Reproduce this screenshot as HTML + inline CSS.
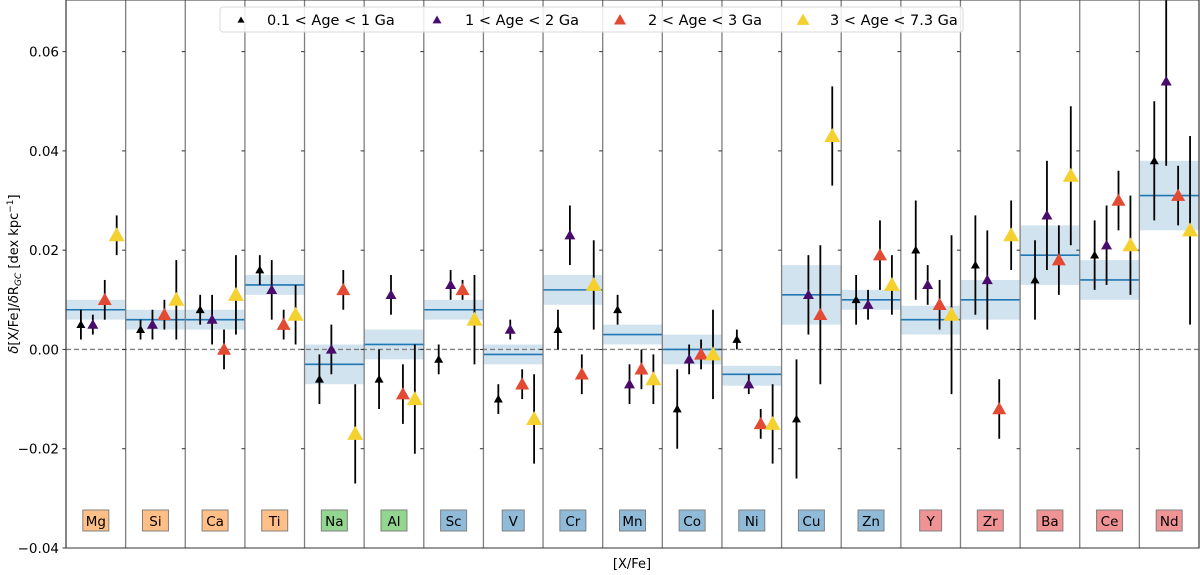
<!DOCTYPE html>
<html><head><meta charset="utf-8"><style>
html,body{margin:0;padding:0;background:#fff;}
svg{display:block;font-family:"DejaVu Sans","Liberation Sans",sans-serif;}
</style></head><body>
<svg id="chart" width="1200" height="575" viewBox="0 0 1200 575"></svg>
<script>
const elements = ["Mg","Si","Ca","Ti","Na","Al","Sc","V","Cr","Mn","Co","Ni","Cu","Zn","Y","Zr","Ba","Ce","Nd"];
const groups = ["o","o","o","o","g","g","b","b","b","b","b","b","b","b","r","r","r","r","r"];
const meanVals = [0.008,0.006,0.006,0.013,-0.003,0.001,0.008,-0.001,0.012,0.003,0.000,-0.005,0.011,0.010,0.006,0.010,0.019,0.014,0.031];
const bandLo = [0.006,0.004,0.004,0.011,-0.007,-0.002,0.006,-0.003,0.009,0.001,-0.003,-0.0073,0.005,0.008,0.003,0.006,0.013,0.010,0.024];
const bandHi = [0.010,0.008,0.008,0.015,0.001,0.004,0.010,0.001,0.015,0.005,0.003,-0.0033,0.017,0.012,0.0088,0.014,0.025,0.018,0.038];
const s1Val = [0.005,0.004,0.008,0.016,-0.006,-0.006,-0.002,-0.010,0.004,0.008,-0.012,0.002,-0.014,0.010,0.020,0.017,0.014,0.019,0.038];
const s1Err = [0.003,0.002,0.003,0.003,0.005,0.006,0.003,0.003,0.004,0.003,0.008,0.002,0.012,0.005,0.010,0.010,0.008,0.007,0.012];
const s2Val = [0.005,0.005,0.006,0.012,0.000,0.011,0.013,0.004,0.023,-0.007,-0.002,-0.007,0.011,0.009,0.013,0.014,0.027,0.021,0.054];
const s2Err = [0.002,0.003,0.005,0.006,0.005,0.004,0.003,0.002,0.006,0.004,0.003,0.002,0.008,0.003,0.004,0.010,0.011,0.008,0.017];
const s3Val = [0.010,0.007,0.000,0.005,0.012,-0.009,0.012,-0.007,-0.005,-0.004,-0.001,-0.015,0.007,0.019,0.009,-0.012,0.018,0.030,0.031];
const s3Err = [0.004,0.003,0.004,0.003,0.004,0.006,0.002,0.003,0.004,0.004,0.003,0.003,0.014,0.007,0.005,0.006,0.007,0.006,0.006];
const s4Val = [0.023,0.010,0.011,0.007,-0.017,-0.010,0.006,-0.014,0.013,-0.006,-0.001,-0.015,0.043,0.013,0.007,0.023,0.035,0.021,0.024];
const s4Err = [0.004,0.008,0.008,0.006,0.010,0.011,0.009,0.009,0.009,0.005,0.009,0.008,0.010,0.006,0.016,0.007,0.014,0.010,0.019];
const seriesNames = ["0.1 < Age < 1 Ga","1 < Age < 2 Ga","2 < Age < 3 Ga","3 < Age < 7.3 Ga"];
const yTicks = [-0.04,-0.02,0.00,0.02,0.04,0.06];
const yTickLabels = ["\u22120.04","\u22120.02","0.00","0.02","0.04","0.06"];

const NS="http://www.w3.org/2000/svg";
const svg=document.getElementById('chart');
const L=66,R=1199,T=0,B=548,YMIN=-0.04,YMAX=0.0704;
const colW=(R-L)/elements.length;
const y=v=>B-(v-YMIN)/(YMAX-YMIN)*(B-T);
const xc=(i,f)=>L+colW*(i+f);
function mk(tag,attrs,parent){const e=document.createElementNS(NS,tag);for(const k in attrs)e.setAttribute(k,attrs[k]);(parent||svg).appendChild(e);return e;}
const colors=["#000000","#4a0c6b","#e24a33","#f5d130"];
const sizes=[4.5,5.5,7,8];
const groupFill={o:"#ffbf86",g:"#93d68f",b:"#8fbbd9",r:"#f09394"};
const sVals=[s1Val,s2Val,s3Val,s4Val],sErrs=[s1Err,s2Err,s3Err,s4Err];
const offs=[0.25,0.45,0.65,0.85];

// bands
elements.forEach((el,i)=>{
  const b=mk('rect',{x:xc(i,0),y:y(bandHi[i]),width:colW,height:y(bandLo[i])-y(bandHi[i]),fill:"#d2e3f0"});
  
  
});
// zero dashed
const z=mk('line',{x1:L,x2:R,y1:y(0),y2:y(0),stroke:"#808080","stroke-width":1.3,"stroke-dasharray":"5,3"});


// mean lines
elements.forEach((el,i)=>{
  const m=mk('line',{x1:xc(i,0),x2:xc(i,1),y1:y(meanVals[i]),y2:y(meanVals[i]),stroke:"#1f77b4","stroke-width":1.6});
  
  
});
// separators + ticks
for(let i=0;i<=elements.length;i++){
  const x=xc(i,0);
  const s=mk('line',{x1:x,x2:x,y1:T,y2:B,stroke:"#7f7f7f","stroke-width":1.3});
  
  
  if(i<elements.length){
    yTicks.forEach(t=>{mk('line',{x1:x-3.5,x2:x,y1:y(t),y2:y(t),stroke:"#333","stroke-width":1});});
  }
}
// y tick labels
yTicks.forEach((t,k)=>{
  const tx=mk('text',{x:59,y:y(t)+5,"text-anchor":"end","font-size":"13.5",fill:"#000"});
  tx.textContent=yTickLabels[k];
  
  
});
// points
elements.forEach((el,i)=>{
  for(let s=0;s<4;s++){
    const cx=xc(i,offs[s]),v=sVals[s][i],e=sErrs[s][i];
    const eb=mk('line',{x1:cx,x2:cx,y1:y(v+e),y2:y(v-e),stroke:"#000","stroke-width":1.8});
    
    
    const h=sizes[s],py=y(v);
    const p=mk('polygon',{points:`${cx},${py-h} ${cx-h},${py+h*0.75} ${cx+h},${py+h*0.75}`,fill:colors[s]});
    
    
  }
});
// element labels
elements.forEach((el,i)=>{
  const cx=xc(i,0.5);
  const w=el.length===1?22:26;
  const g=mk('g',{});
  
  
  mk('rect',{x:cx-w/2,y:510,width:w,height:21,fill:groupFill[groups[i]],stroke:"#808080","stroke-width":1},g);
  const t=mk('text',{x:cx,y:526,"text-anchor":"middle","font-size":"13.5",fill:"#000"},g);
  t.textContent=el;
});
// plot frame
const fr=mk('rect',{x:L,y:T,width:R-L,height:B-T,fill:"none",stroke:"#333","stroke-width":1});


// legend
const lg=mk('g',{});


mk('rect',{x:220,y:7,width:743,height:25,rx:3,fill:"#fff","fill-opacity":0.85,stroke:"#d8d8d8"},lg);
const lmx=[241,437,620,803],ltx=[267,465,648,830];
seriesNames.forEach((n,s)=>{
  const h=[3.5,4.5,6,6.5][s];
  const e=mk('g',{},lg);
  
  
  mk('polygon',{points:`${lmx[s]},${20-h} ${lmx[s]-h},${20+h*0.75} ${lmx[s]+h},${20+h*0.75}`,fill:colors[s]},e);
  const t=mk('text',{x:ltx[s],y:25,"font-size":"14.5",fill:"#000"},e);
  t.textContent=n;
});
// axis titles
const xt=mk('text',{x:632,y:568,"text-anchor":"middle","font-size":"13",fill:"#000"});
xt.textContent="[X/Fe]";


const yt=mk('text',{x:0,y:0,"text-anchor":"middle","font-size":"13",fill:"#000",transform:"translate(18,274) rotate(-90)"});
yt.innerHTML='<tspan font-style="italic">δ</tspan>[X/Fe]/<tspan font-style="italic">δ</tspan>R<tspan font-size="9" dy="3"><tspan font-style="italic">GC</tspan></tspan><tspan dy="-3"> [dex kpc</tspan><tspan font-size="9" dy="-5">−1</tspan><tspan dy="5">]</tspan>';


</script>
</body></html>
